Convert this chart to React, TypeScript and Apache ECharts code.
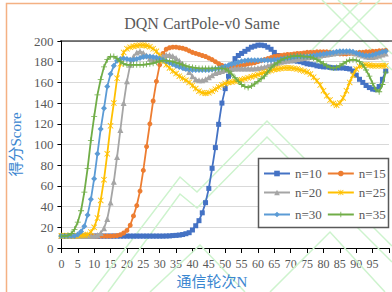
import React, { useEffect, useRef } from "react";
import * as echarts from "echarts";

const TITLE = "DQN CartPole-v0 Same";
const X_NAME = "通信轮次N";
const Y_NAME = "得分Score";
const SERIES_NAMES = ["n=10", "n=15", "n=20", "n=25", "n=30", "n=35"];
const COLORS = ["#4472C4", "#ED7D31", "#A5A5A5", "#FFC000", "#5B9BD5", "#70AD47"];

const n10 = [
  11.5, 11.5, 11.5, 11.5, 11.5, 11.5, 11.5, 11.5, 11.5, 11.5,
  11.5, 11.5, 11.5, 11.5, 11.5, 11.5, 11.5, 11.5, 11.5, 11.5,
  11.5, 11.5, 11.5, 11.5, 11.5, 11.5, 11.5, 11.5, 11.5, 11.5,
  11.5, 11.5, 11.6, 11.7, 12, 12.2, 12.5, 13, 13.8, 14.8,
  17.4, 21.5, 26.4, 34, 43.8, 57.6, 77, 97, 119.5, 140,
  154, 166, 177, 183, 186, 188, 190, 192, 194, 195,
  196, 196, 195.5, 194, 192, 189, 186, 184, 182.5, 181.5,
  181, 181, 180.5, 180, 179, 178, 177.5, 177, 176, 175.5,
  175, 175, 174.5, 174, 174, 174, 174, 173.5, 173, 171,
  167, 163, 160, 157, 155, 153.5, 153, 156, 163, 171,
];
const n15 = [
  11.5, 11.5, 11.5, 11.5, 11.5, 11.5, 11.5, 11.5, 11.5, 11.5,
  11.5, 11.5, 11.5, 11.5, 11.5, 11.5, 11.7, 12, 12.8, 14.5,
  17, 22, 31, 41, 55, 75, 98, 120, 142, 161,
  177, 188, 192, 193.5, 194, 194, 193.5, 193, 192, 190.5,
  189, 188, 187, 186, 185, 183.5, 182, 180, 178, 176.5,
  175, 174.5, 175, 175.5, 176, 176.5, 177, 178, 178.5, 179,
  180, 181, 182, 183, 184, 185, 185.5, 186, 186.5, 187,
  187, 187.5, 188, 188, 188.5, 189, 189, 189, 189.5, 189.5,
  189.5, 189.5, 189, 188.5, 188, 187.5, 187.5, 187.5, 188, 188,
  188.5, 189, 189, 189.5, 189.5, 190, 190, 190.5, 190.5, 191,
];
const n20 = [
  11.5, 11.5, 11.5, 11.5, 11.5, 11.5, 11.5, 11.5, 11.5, 11.5,
  11.8, 12.5, 14.5, 19, 28, 44, 64, 88, 114, 140,
  161, 177, 185, 189, 190, 188.5, 186, 183, 182, 182.5,
  184, 185.5, 186.5, 186.5, 185.5, 183.5, 181, 178, 174, 170,
  166, 163, 162, 162, 163, 165, 167, 169, 170, 171,
  172, 172.5, 173, 173.5, 173.5, 173.5, 173.5, 173.5, 173.5, 173.5,
  174, 174.5, 175, 176, 177, 178, 179, 180, 180.5, 181,
  181.5, 182, 182.5, 183, 183.5, 184, 184.5, 185, 185.5, 186,
  186.5, 187, 187.5, 188, 188.5, 189, 189.5, 189.5, 189.5, 189,
  188, 187, 186, 185, 184.5, 184.5, 185, 186, 187, 188,
];
const n25 = [
  11.8, 11.8, 11.8, 11.8, 11.8, 11.8, 12, 12.3, 13, 15.5,
  20, 29, 46, 66, 91, 118, 140, 164, 178, 189,
  192.5, 194, 195, 195.5, 196, 196, 195.5, 194.5, 192.5, 190,
  186, 181, 177, 174, 171, 168.5, 166, 164, 162, 160,
  157, 154, 151.5, 150, 149.5, 150, 151.5, 153.5, 155.5, 157.5,
  159, 160, 160.5, 161, 161.5, 162.5, 163.5, 164.5, 165.5, 166.5,
  167.5, 168.5, 169.5, 170.5, 171.5, 172.5, 173, 173.5, 174, 174,
  174, 173.5, 173, 172, 171, 170, 168, 165, 161.5, 157.5,
  152, 147, 143, 139.5, 138, 140, 145, 152, 160, 167,
  173, 175.5, 176.5, 177, 176.5, 176, 176, 176, 176, 176,
];
const n30 = [
  11.5, 11.5, 11.5, 11.5, 11.5, 13, 16, 21, 32, 47,
  67, 91, 115, 135, 156, 168, 176, 181, 182.5, 183,
  182.5, 182, 182, 182.5, 183.5, 184.5, 185, 185, 184.5, 184,
  183, 182, 180.5, 179, 177.5, 176, 175, 174, 173, 172.5,
  172, 172, 172, 172, 172, 172, 172.5, 173, 173.5, 174.5,
  175.5, 176.5, 177.5, 178.5, 179.5, 180.5, 181, 181.5, 181.5, 181.5,
  181.5, 181.5, 181.5, 181.5, 181.5, 182, 182, 182.5, 183, 183.5,
  184, 184.5, 185, 185, 185, 185, 185.5, 186, 186.5, 187,
  187.5, 188, 188.5, 189, 189.5, 190, 190, 190, 190, 189.5,
  188.5, 187.5, 186.5, 186, 186, 186.5, 187.5, 188.5, 189.5, 190,
];
const n35 = [
  11.5, 11.5, 12, 14, 18, 25, 36, 54, 77, 104,
  127, 148, 163, 175, 182, 185, 185, 183, 180, 178,
  177, 177, 177, 177, 177, 177, 177.5, 178, 178.5, 179.5,
  180.5, 181, 181, 180.5, 180, 179, 178, 177, 176, 175,
  174.5, 174, 173.5, 173.5, 173.5, 173.5, 173.5, 173.5, 173.5, 173.5,
  173, 171, 168, 164.5, 161, 158, 156, 155, 156.5, 158.5,
  161, 163.5, 166, 170, 174, 177, 179, 181.5, 183, 184,
  185, 185.5, 185.5, 185.5, 185, 185, 184.5, 183.5, 182, 180,
  178, 176, 174.5, 174, 174.5, 176, 178, 180, 181.5, 182,
  181.5, 180, 177, 172, 166, 159, 153, 151, 158, 170,
];
const SERIES_VALUES = [n10, n15, n20, n25, n30, n35];

const STAR = "path://M0,1L1,0L10,9L9,10Z M9,0L10,1L1,10L0,9Z M4.4,0H5.6V10H4.4Z";
const PLUS = "path://M4.3,0H5.7V4.3H10V5.7H5.7V10H4.3V5.7H0V4.3H4.3Z";
const SYMBOLS = ["rect", "circle", "triangle", STAR, "diamond", PLUS];
const SYMBOL_SIZES = [5, 5, 6, 6, 6, 6];

const SERIF = "'Liberation Serif', 'Times New Roman', serif";
const AXIS_NAME_FONT = "'Liberation Serif', 'Noto Sans CJK SC', serif";

const GREEN_LINES: number[][][] = [
  [[92, 292], [180, 177], [197, 192], [267, 121], [392, 246]],
  [[108, 292], [180, 194], [197, 208], [267, 137], [392, 262]],
  [[300, 62], [362, 0]],
  [[316, 64], [380, 0]],
  [[338, 0], [392, 54]],
  [[322, 0], [392, 70]],
  [[150, 292], [200, 245], [245, 292]],
  [[270, 292], [330, 232], [385, 292]],
];

export default function App() {
  const ref = useRef<HTMLDivElement>(null);
  useEffect(() => {
    if (!ref.current) return;
    const chart = echarts.init(ref.current, null, { renderer: "svg" });
    const series = SERIES_NAMES.map((name, i) => ({
      name,
      type: "line",
      data: SERIES_VALUES[i].map((v, k) => [k, v]),
      symbol: SYMBOLS[i],
      symbolSize: SYMBOL_SIZES[i],
      showAllSymbol: true,
      lineStyle: { color: COLORS[i], width: 1.8 },
      itemStyle: { color: COLORS[i], borderWidth: 0 },
      z: 2 + i,
    }));
    const greenGraphics = GREEN_LINES.map((pts) => ({
      type: "polyline",
      silent: true,
      z: 1,
      shape: { points: pts },
      style: { stroke: "#cdf3cd", lineWidth: 1.5, fill: null },
    }));
    const legendRow = (names: string[], top: number) => ({
      data: names,
      left: 263,
      top,
      orient: "horizontal",
      itemWidth: 26,
      itemHeight: 7,
      itemGap: 5,
      padding: 0,
      textStyle: { fontFamily: SERIF, fontSize: 13, color: "#595959" },
      selectedMode: false,
      z: 10,
    });
    chart.setOption({
      animation: false,
      backgroundColor: "#ffffff",
      grid: { left: 60, top: 41, width: 333, height: 207, containLabel: false },
      xAxis: {
        type: "value",
        min: 0,
        max: 100,
        interval: 5,
        axisLine: { show: true, lineStyle: { color: "#000", width: 1 } },
        axisTick: { show: true, inside: false, length: 5, lineStyle: { color: "#000" } },
        axisLabel: {
          fontFamily: SERIF,
          fontSize: 12,
          color: "#595959",
          margin: 10,
          formatter: (v: number) => (v >= 100 ? "" : String(v)),
        },
        splitLine: { show: false },
      },
      yAxis: {
        type: "value",
        min: 0,
        max: 200,
        interval: 20,
        name: Y_NAME,
        nameLocation: "middle",
        nameRotate: 90,
        nameGap: 31,
        nameTextStyle: {
          fontFamily: AXIS_NAME_FONT,
          fontSize: 15,
          color: "#3A86D0",
        },
        axisLine: { show: true, lineStyle: { color: "#000", width: 1 } },
        axisTick: { show: true, inside: false, length: 4, lineStyle: { color: "#000" } },
        axisLabel: { fontFamily: SERIF, fontSize: 13, color: "#595959", margin: 8 },
        splitLine: { show: true, lineStyle: { color: "#d9d9d9", width: 1 } },
      },
      legend: [
        legendRow(["n=10", "n=15"], 167),
        legendRow(["n=20", "n=25"], 186),
        legendRow(["n=30", "n=35"], 208),
      ],
      graphic: [
        {
          type: "rect",
          silent: true,
          z: 0,
          shape: { x: 6.5, y: 3.5, width: 400, height: 300 },
          style: { fill: null, stroke: "#F4B183", lineWidth: 1.5 },
        },
        ...greenGraphics,
        {
          type: "line",
          silent: true,
          z: 5,
          shape: { x1: 60, y1: 41, x2: 393, y2: 41 },
          style: { stroke: "#000", lineWidth: 1 },
        },
        {
          type: "rect",
          silent: true,
          z: 8,
          shape: { x: 258.5, y: 158.5, width: 130, height: 69 },
          style: { fill: "#ffffff", stroke: "#595959", lineWidth: 1.5 },
        },
        {
          type: "text",
          silent: true,
          z: 6,
          x: 202,
          y: 23,
          style: {
            text: TITLE,
            fontFamily: SERIF,
            fontSize: 16,
            fill: "#595959",
            align: "center",
            verticalAlign: "middle",
          },
        },
        {
          type: "text",
          silent: true,
          z: 6,
          x: 212,
          y: 282,
          style: {
            text: X_NAME,
            fontFamily: AXIS_NAME_FONT,
            fontSize: 15,
            fill: "#3A86D0",
            align: "center",
            verticalAlign: "middle",
          },
        },
      ],
      series,
    });
    return () => chart.dispose();
  }, []);
  return (
    <div
      ref={ref}
      style={{ position: "absolute", left: 0, top: 0, width: 392, height: 292 }}
    />
  );
}
